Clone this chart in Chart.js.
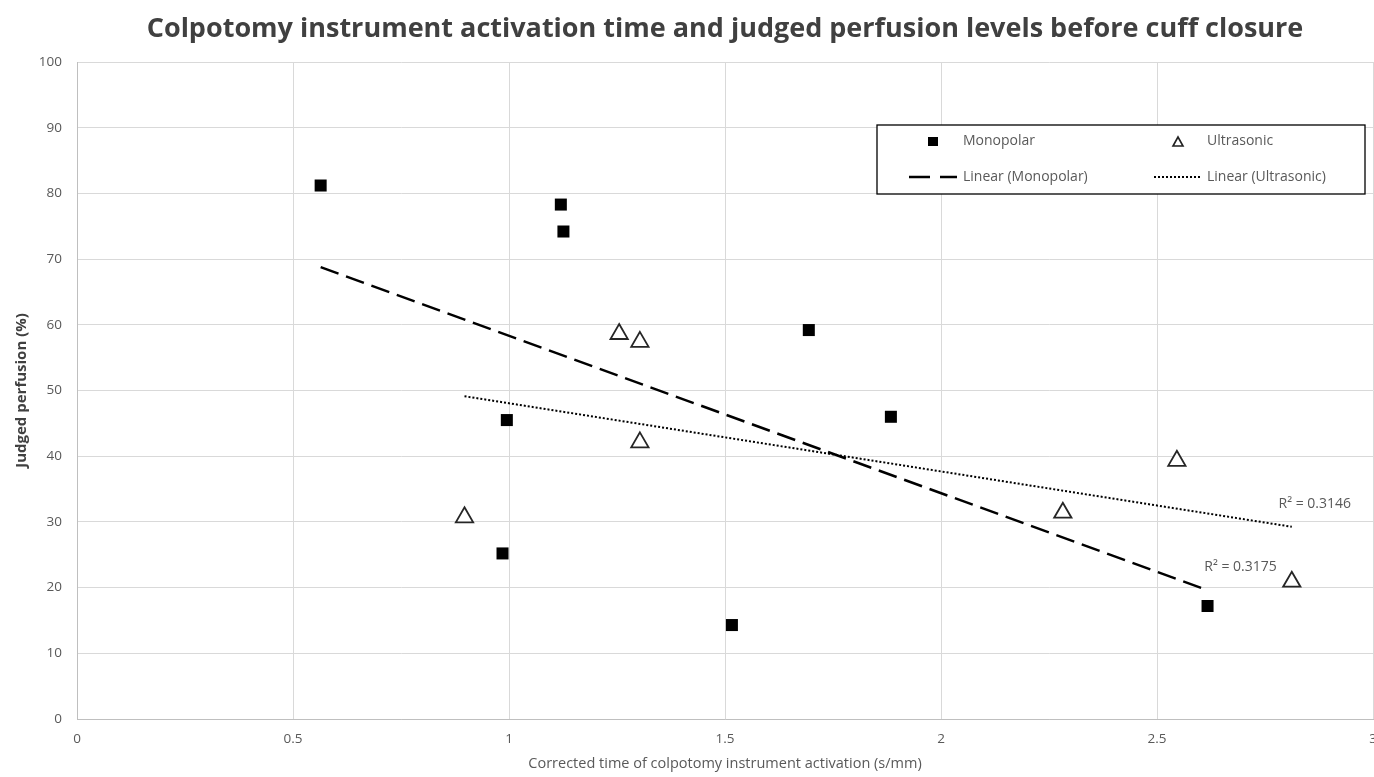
<!DOCTYPE html>
<html>
<head>
<meta charset="utf-8">
<script src="https://cdn.jsdelivr.net/npm/chart.js@4"></script>
<style>
  body { margin: 0; background: #fff; }
  #wrap { width: 1374px; height: 777px; }
</style>
</head>
<body>
<div id="wrap"><canvas id="perfChart" width="1374" height="777"></canvas></div>
<script>
// values
const monoX = [0.564, 1.120, 1.126, 0.995, 0.985, 1.516, 1.694, 1.884, 2.617];
const monoY = [81.2, 78.3, 74.2, 45.5, 25.2, 14.3, 59.2, 46.0, 17.2];
const ultraX = [0.897, 1.255, 1.303, 1.303, 2.282, 2.546, 2.812];
const ultraY = [30.7, 58.6, 57.4, 42.1, 31.4, 39.3, 20.9];
const r2Labels = ['R² = 0.3175', 'R² = 0.3146']; // monopolar, ultrasonic
const xTicks = [0, 0.5, 1, 1.5, 2, 2.5, 3];
const chartTitle = 'Colpotomy instrument activation time and judged perfusion levels before cuff closure';

const FONT = "'Open Sans', 'Liberation Sans', sans-serif";
const GREY = '#595959';

function toPoints (xs, ys) {
  return xs.map((x, i) => ({ x: x, y: ys[i] }));
}

// least squares line over the range of the series, like Excel's linear trendline
function trend (xs, ys) {
  const n = xs.length;
  const mx = xs.reduce((a, b) => a + b, 0) / n;
  const my = ys.reduce((a, b) => a + b, 0) / n;
  let sxy = 0, sxx = 0;
  for (let i = 0; i < n; i++) {
    sxy += (xs[i] - mx) * (ys[i] - my);
    sxx += (xs[i] - mx) * (xs[i] - mx);
  }
  const slope = sxy / sxx;
  const lo = Math.min(...xs), hi = Math.max(...xs);
  return [{ x: lo, y: my + slope * (lo - mx) }, { x: hi, y: my + slope * (hi - mx) }];
}

const monoTrend = trend(monoX, monoY);
const ultraTrend = trend(ultraX, ultraY);

// title (centred over the plot, as Excel did), legend box and R² labels
const extras = {
  id: 'extras',
  beforeDraw (chart) {
    const ctx = chart.ctx;
    const area = chart.chartArea;
    ctx.save();
    ctx.font = 'bold 27px ' + FONT;
    ctx.fillStyle = '#404040';
    ctx.textAlign = 'center';
    ctx.textBaseline = 'middle';
    ctx.fillText(chartTitle, (area.left + area.right) / 2, 29);
    ctx.restore();
  },
  afterDatasetsDraw (chart) {
    const ctx = chart.ctx;
    const xs = chart.scales.x, ys = chart.scales.y;
    ctx.save();
    ctx.font = '14px ' + FONT;
    ctx.fillStyle = GREY;
    ctx.textBaseline = 'middle';
    ctx.textAlign = 'center';
    const mEnd = monoTrend[1], uEnd = ultraTrend[1];
    ctx.fillText(r2Labels[0], xs.getPixelForValue(mEnd.x) + 33, ys.getPixelForValue(mEnd.y) - 23);
    ctx.fillText(r2Labels[1], xs.getPixelForValue(uEnd.x) + 23, ys.getPixelForValue(uEnd.y) - 23);

    // legend
    const bx = 877, by = 125, bw = 488, bh = 69;
    ctx.fillStyle = '#fff';
    ctx.fillRect(bx, by, bw, bh);
    ctx.strokeStyle = '#000';
    ctx.lineWidth = 1.3;
    ctx.strokeRect(bx, by, bw, bh);
    ctx.textAlign = 'left';
    ctx.font = '14px ' + FONT;
    // row 1
    ctx.fillStyle = '#000';
    ctx.fillRect(928, 137, 10, 9);
    ctx.fillStyle = GREY;
    ctx.fillText('Monopolar', 963, 141);
    ctx.beginPath();
    ctx.moveTo(1173, 146); ctx.lineTo(1178, 137); ctx.lineTo(1183, 146); ctx.closePath();
    ctx.strokeStyle = '#222'; ctx.lineWidth = 1.6; ctx.stroke();
    ctx.fillText('Ultrasonic', 1207, 141);
    // row 2
    ctx.strokeStyle = '#000';
    ctx.lineWidth = 2.5;
    ctx.setLineDash([21, 10]);
    ctx.beginPath(); ctx.moveTo(909, 177); ctx.lineTo(957, 177); ctx.stroke();
    ctx.fillText('Linear (Monopolar)', 963, 177);
    ctx.lineWidth = 2;
    ctx.setLineDash([2, 2]);
    ctx.beginPath(); ctx.moveTo(1154, 177); ctx.lineTo(1201, 177); ctx.stroke();
    ctx.setLineDash([]);
    ctx.fillText('Linear (Ultrasonic)', 1207, 177);
    ctx.restore();
  }
};

new Chart(document.getElementById('perfChart').getContext('2d'), {
  type: 'scatter',
  data: {
    datasets: [
      {
        label: 'Monopolar',
        data: toPoints(monoX, monoY),
        pointStyle: 'rect',
        pointRadius: 8.5,
        backgroundColor: '#000',
        borderColor: '#000',
        borderWidth: 0,
        order: 1
      },
      {
        label: 'Ultrasonic',
        data: toPoints(ultraX, ultraY),
        pointStyle: 'triangle',
        pointRadius: 10,
        backgroundColor: '#fff',
        borderColor: '#262626',
        borderWidth: 1.8,
        order: 1
      },
      {
        label: 'Linear (Monopolar)',
        type: 'line',
        data: monoTrend,
        borderColor: '#000',
        borderWidth: 2.5,
        borderDash: [19, 8],
        pointRadius: 0,
        fill: false,
        order: 2
      },
      {
        label: 'Linear (Ultrasonic)',
        type: 'line',
        data: ultraTrend,
        borderColor: '#000',
        borderWidth: 2,
        borderDash: [2, 2],
        pointRadius: 0,
        fill: false,
        order: 2
      }
    ]
  },
  options: {
    responsive: false,
    animation: false,
    layout: { autoPadding: false, padding: { left: 4, right: 1, top: 62, bottom: 0 } },
    plugins: {
      legend: { display: false },
      tooltip: { enabled: false },
      title: { display: false }
    },
    scales: {
      x: {
        type: 'linear',
        min: 0,
        max: 3,
        afterBuildTicks (axis) { axis.ticks = xTicks.map(v => ({ value: v })); },
        afterFit (axis) {
          axis.paddingRight = 0; // let the "3" run off the edge as in the original
          axis.height = 58;
        },
        ticks: { color: GREY, font: { family: FONT, size: 13.5 }, padding: 12, callback: v => String(v) },
        grid: { color: '#d9d9d9', lineWidth: 1, drawTicks: false },
        border: { color: '#bfbfbf' },
        title: {
          display: true,
          text: 'Corrected time of colpotomy instrument activation (s/mm)',
          color: GREY,
          font: { family: FONT, size: 14.5 },
          padding: { top: 8, bottom: 4 }
        }
      },
      y: {
        min: 0,
        max: 100,
        afterFit (axis) { axis.width = 73; },
        ticks: { stepSize: 10, color: GREY, font: { family: FONT, size: 13.5 }, padding: 15 },
        grid: { color: '#d9d9d9', lineWidth: 1, drawTicks: false },
        border: { color: '#bfbfbf' },
        title: {
          display: true,
          text: 'Judged perfusion (%)',
          color: '#404040',
          font: { family: FONT, size: 15, weight: 'bold' },
          padding: { top: 9, bottom: 8 }
        }
      }
    }
  },
  plugins: [extras]
});
</script>
</body>
</html>
